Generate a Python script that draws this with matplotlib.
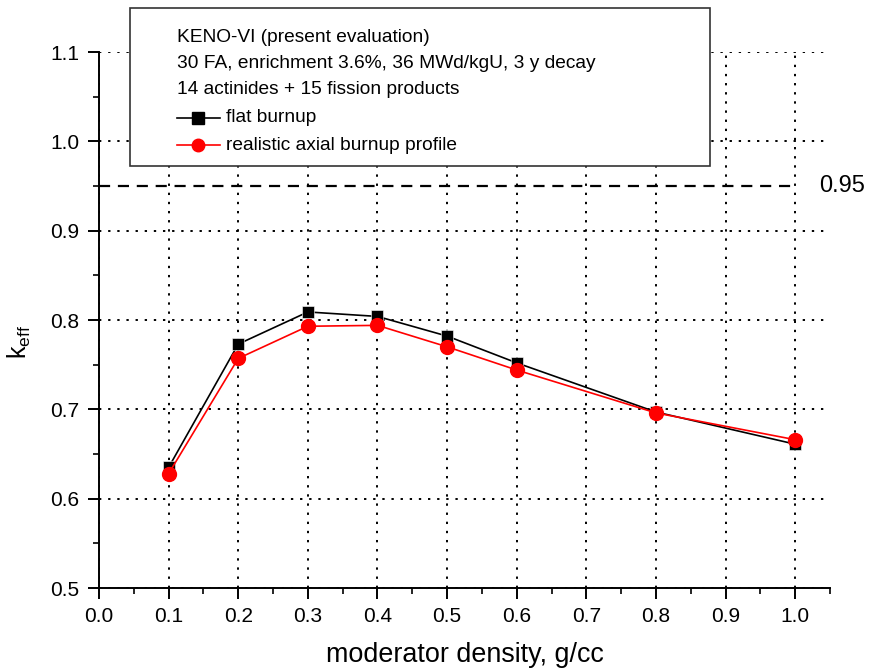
import numpy as np
import matplotlib.pyplot as plt
from matplotlib.lines import Line2D
from matplotlib.patches import Rectangle
from matplotlib.ticker import MultipleLocator

plt.rcParams['font.family'] = ['Liberation Sans', 'DejaVu Sans']

# data
density = [0.1, 0.2, 0.3, 0.4, 0.5, 0.6, 0.8, 1.0]
k_flat = [0.635, 0.773, 0.809, 0.804, 0.782, 0.752, 0.697, 0.661]
k_real = [0.628, 0.757, 0.793, 0.794, 0.770, 0.744, 0.696, 0.666]
limit = 0.95

box_lines = ["KENO-VI (present evaluation)",
             "30 FA, enrichment 3.6%, 36 MWd/kgU, 3 y decay",
             "14 actinides + 15 fission products"]
labels = ["flat burnup", "realistic axial burnup profile"]

W, H = 873, 672
fig = plt.figure(figsize=(W / 100, H / 100), dpi=100)
ax = fig.add_axes([99 / W, 1 - 588 / H, (830 - 99) / W, (588 - 52) / H])

ax.plot(density, k_flat, color='black', lw=1.2, marker='s', ms=9,
        mec='white', mew=0.4, zorder=4)
ax.plot(density, k_real, color='red', lw=1.2, marker='o', ms=10,
        mec='red', zorder=5)
ax.plot([0, 1.0], [limit, limit], color='black', lw=1.6, ls=(0, (5, 3.5)), zorder=3)
ax.text(1.034, limit, "0.95", fontsize=17, va='center', ha='left', clip_on=False)

ax.set_xlim(0, 1.05)
ax.set_ylim(0.5, 1.1)
ax.set_xticks(np.arange(0, 1.01, 0.1))
ax.xaxis.set_minor_locator(MultipleLocator(0.05))
ax.yaxis.set_major_locator(MultipleLocator(0.1))
ax.yaxis.set_minor_locator(MultipleLocator(0.05))
ax.tick_params(which='major', direction='out', length=8, width=1.4,
               labelsize=15, pad=6)
ax.tick_params(which='minor', direction='out', length=4, width=1.2)
ax.spines['top'].set_visible(False)
ax.spines['right'].set_visible(False)
ax.spines['left'].set_linewidth(1.4)
ax.spines['bottom'].set_linewidth(1.4)
ax.grid(True, which='major', color='black', ls=(0, (1.2, 3.5)), lw=1.4)
ax.set_axisbelow(True)

ax.set_xlabel("moderator density, g/cc", fontsize=19.4, va='center')
ax.xaxis.set_label_coords(0.5, -0.125)
ax.set_ylabel(r"k$_{\mathregular{eff}}$", fontsize=18, ha='center', va='center',
              rotation_mode='default')
ax.yaxis.set_label_coords(-0.109, 0.459)

# annotation box above the axes
fig.add_artist(Rectangle((130 / W, 1 - 166 / H), (710 - 130) / W, (166 - 8) / H,
                         transform=fig.transFigure, facecolor='white',
                         edgecolor='#333333', lw=1.2, zorder=10))
ys = [38, 64, 90, 118, 145]
for i, s in enumerate(box_lines):
    fig.text(177 / W, 1 - ys[i] / H, s, fontsize=13.8, va='center', zorder=11)
styles = [dict(color='black', marker='s', ms=8, mec='black'),
          dict(color='red', marker='o', ms=9, mec='red')]
for j, lab in enumerate(labels):
    y = 1 - ys[3 + j] / H
    fig.add_artist(Line2D([177 / W, 220 / W], [y, y], transform=fig.transFigure,
                          lw=1.2, color=styles[j]['color'], zorder=11))
    fig.add_artist(Line2D([198 / W], [y], transform=fig.transFigure, ls='none',
                          zorder=12, **styles[j]))
    fig.text(226 / W, y, lab, fontsize=13.8, va='center', zorder=11)

fig.savefig("out.png", dpi=100)
